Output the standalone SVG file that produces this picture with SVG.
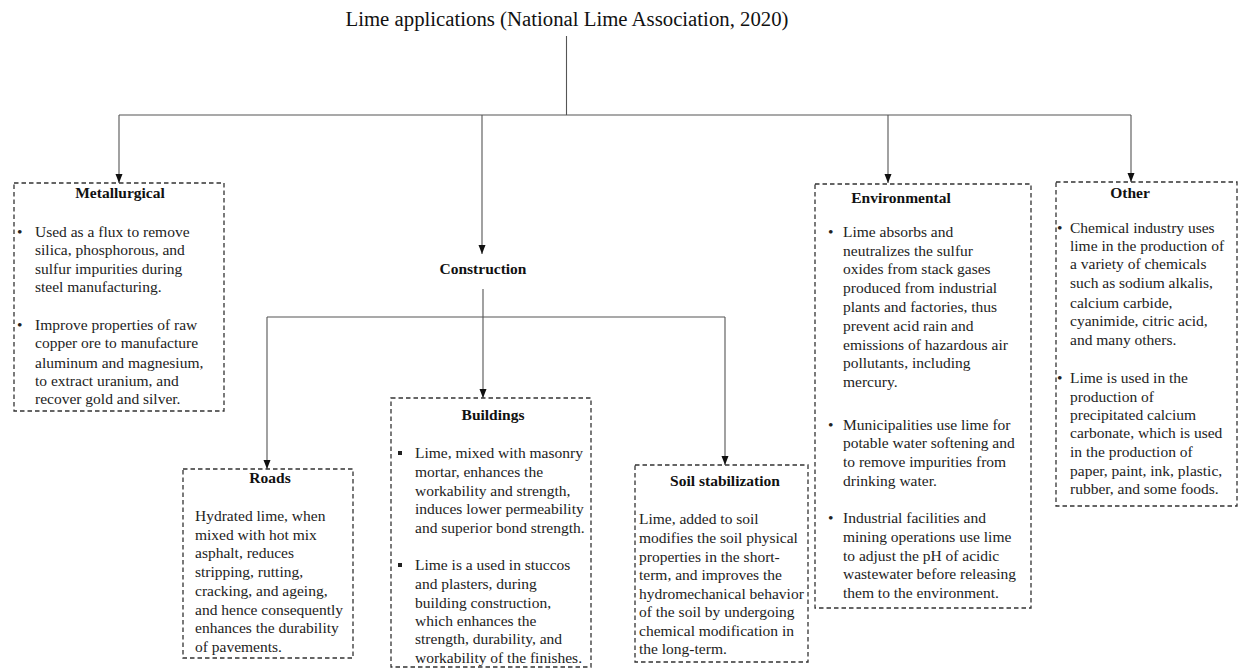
<svg xmlns="http://www.w3.org/2000/svg" width="1239" height="669" viewBox="0 0 1239 669">
<style>
.t{font-family:"Liberation Serif","Times New Roman",serif;font-size:15.5px;fill:#222}
.h{font-family:"Liberation Serif","Times New Roman",serif;font-size:15.5px;font-weight:bold;fill:#111;text-anchor:middle}
.title{font-family:"Liberation Serif","Times New Roman",serif;font-size:20px;fill:#111;text-anchor:middle}
.box{fill:none;stroke:#333;stroke-width:1.3;stroke-dasharray:4.5 3}
.ln{fill:none;stroke:#555;stroke-width:1.1}
.ar{marker-end:url(#arrow)}
</style>
<defs>
<marker id="arrow" markerUnits="userSpaceOnUse" markerWidth="9" markerHeight="8" viewBox="0 0 9 8" refX="9" refY="4" orient="auto">
<path d="M0,0.5 L9,4 L0,7.5 Z" fill="#111"/>
</marker>
</defs>
<rect width="1239" height="669" fill="#fff"/>
<g id="title"><text class="title" x="567" y="26" textLength="443" lengthAdjust="spacingAndGlyphs">Lime applications (National Lime Association, 2020)</text></g>
<g id="connectors">
<line class="ln" x1="566.5" y1="36" x2="566.5" y2="115"/>
<line class="ln" x1="119" y1="115" x2="1131" y2="115"/>
<line class="ln ar" x1="119" y1="115" x2="119" y2="183"/>
<line class="ln ar" x1="482" y1="115" x2="482" y2="254"/>
<line class="ln ar" x1="888" y1="115" x2="888" y2="183"/>
<line class="ln ar" x1="1131" y1="115" x2="1131" y2="182"/>
<line class="ln ar" x1="483" y1="289" x2="483" y2="398"/>
<line class="ln" x1="267" y1="317" x2="725" y2="317"/>
<line class="ln ar" x1="267" y1="317" x2="267" y2="469"/>
<line class="ln ar" x1="725" y1="317" x2="725" y2="465"/>
</g>
<g id="metallurgical">
<rect class="box" x="14" y="183" width="210" height="228"/>
<text class="h" x="120" y="198">Metallurgical</text>
<text class="t" x="17" y="237">•</text>
<text class="t" x="35" y="237">Used as a flux to remove</text>
<text class="t" x="35" y="255">silica, phosphorous, and</text>
<text class="t" x="35" y="274">sulfur impurities during</text>
<text class="t" x="35" y="292">steel manufacturing.</text>
<text class="t" x="17" y="330">•</text>
<text class="t" x="35" y="330">Improve properties of raw</text>
<text class="t" x="35" y="348">copper ore to manufacture</text>
<text class="t" x="35" y="368">aluminum and magnesium,</text>
<text class="t" x="35" y="386">to extract uranium, and</text>
<text class="t" x="35" y="404">recover gold and silver.</text>
</g>
<g id="construction">
<text class="h" x="483" y="274">Construction</text>
</g>
<g id="roads">
<rect class="box" x="183" y="469" width="170" height="189"/>
<text class="h" x="270" y="483">Roads</text>
<text class="t" x="195" y="521">Hydrated lime, when</text>
<text class="t" x="195" y="540">mixed with hot mix</text>
<text class="t" x="195" y="558">asphalt, reduces</text>
<text class="t" x="195" y="577">stripping, rutting,</text>
<text class="t" x="195" y="596">cracking, and ageing,</text>
<text class="t" x="195" y="615">and hence consequently</text>
<text class="t" x="195" y="633">enhances the durability</text>
<text class="t" x="195" y="652">of pavements.</text>
</g>
<g id="buildings">
<rect class="box" x="391" y="398" width="200" height="269"/>
<text class="h" x="493" y="420">Buildings</text>
<rect x="398" y="451" width="4" height="4" fill="#222"/>
<text class="t" x="415" y="458">Lime, mixed with masonry</text>
<text class="t" x="415" y="477">mortar, enhances the</text>
<text class="t" x="415" y="496">workability and strength,</text>
<text class="t" x="415" y="514">induces lower permeability</text>
<text class="t" x="415" y="533">and superior bond strength.</text>
<rect x="398" y="563" width="4" height="4" fill="#222"/>
<text class="t" x="415" y="570">Lime is a used in stuccos</text>
<text class="t" x="415" y="589">and plasters, during</text>
<text class="t" x="415" y="608">building construction,</text>
<text class="t" x="415" y="626">which enhances the</text>
<text class="t" x="415" y="644">strength, durability, and</text>
<text class="t" x="415" y="663">workability of the finishes.</text>
</g>
<g id="soil">
<rect class="box" x="635" y="465" width="173" height="197"/>
<text class="h" x="725" y="486">Soil stabilization</text>
<text class="t" x="639" y="524">Lime, added to soil</text>
<text class="t" x="639" y="543">modifies the soil physical</text>
<text class="t" x="639" y="562">properties in the short-</text>
<text class="t" x="639" y="580">term, and improves the</text>
<text class="t" x="639" y="599">hydromechanical behavior</text>
<text class="t" x="639" y="617">of the soil by undergoing</text>
<text class="t" x="639" y="636">chemical modification in</text>
<text class="t" x="639" y="654">the long-term.</text>
</g>
<g id="environmental">
<rect class="box" x="815" y="184" width="216" height="424"/>
<text class="h" x="901" y="203">Environmental</text>
<text class="t" x="828" y="237">•</text>
<text class="t" x="843" y="237">Lime absorbs and</text>
<text class="t" x="843" y="256">neutralizes the sulfur</text>
<text class="t" x="843" y="274">oxides from stack gases</text>
<text class="t" x="843" y="293">produced from industrial</text>
<text class="t" x="843" y="312">plants and factories, thus</text>
<text class="t" x="843" y="331">prevent acid rain and</text>
<text class="t" x="843" y="350">emissions of hazardous air</text>
<text class="t" x="843" y="368">pollutants, including</text>
<text class="t" x="843" y="387">mercury.</text>
<text class="t" x="828" y="430">•</text>
<text class="t" x="843" y="430">Municipalities use lime for</text>
<text class="t" x="843" y="448">potable water softening and</text>
<text class="t" x="843" y="467">to remove impurities from</text>
<text class="t" x="843" y="486">drinking water.</text>
<text class="t" x="828" y="523">•</text>
<text class="t" x="843" y="523">Industrial facilities and</text>
<text class="t" x="843" y="542">mining operations use lime</text>
<text class="t" x="843" y="561">to adjust the pH of acidic</text>
<text class="t" x="843" y="579">wastewater before releasing</text>
<text class="t" x="843" y="598">them to the environment.</text>
</g>
<g id="other">
<rect class="box" x="1056" y="182" width="181" height="324"/>
<text class="h" x="1130" y="198">Other</text>
<text class="t" x="1057" y="233">•</text>
<text class="t" x="1070" y="233">Chemical industry uses</text>
<text class="t" x="1070" y="251">lime in the production of</text>
<text class="t" x="1070" y="269">a variety of chemicals</text>
<text class="t" x="1070" y="288">such as sodium alkalis,</text>
<text class="t" x="1070" y="308">calcium carbide,</text>
<text class="t" x="1070" y="326">cyanimide, citric acid,</text>
<text class="t" x="1070" y="345">and many others.</text>
<text class="t" x="1057" y="383">•</text>
<text class="t" x="1070" y="383">Lime is used in the</text>
<text class="t" x="1070" y="402">production of</text>
<text class="t" x="1070" y="420">precipitated calcium</text>
<text class="t" x="1070" y="438">carbonate, which is used</text>
<text class="t" x="1070" y="457">in the production of</text>
<text class="t" x="1070" y="476">paper, paint, ink, plastic,</text>
<text class="t" x="1070" y="494">rubber, and some foods.</text>
</g>
</svg>
